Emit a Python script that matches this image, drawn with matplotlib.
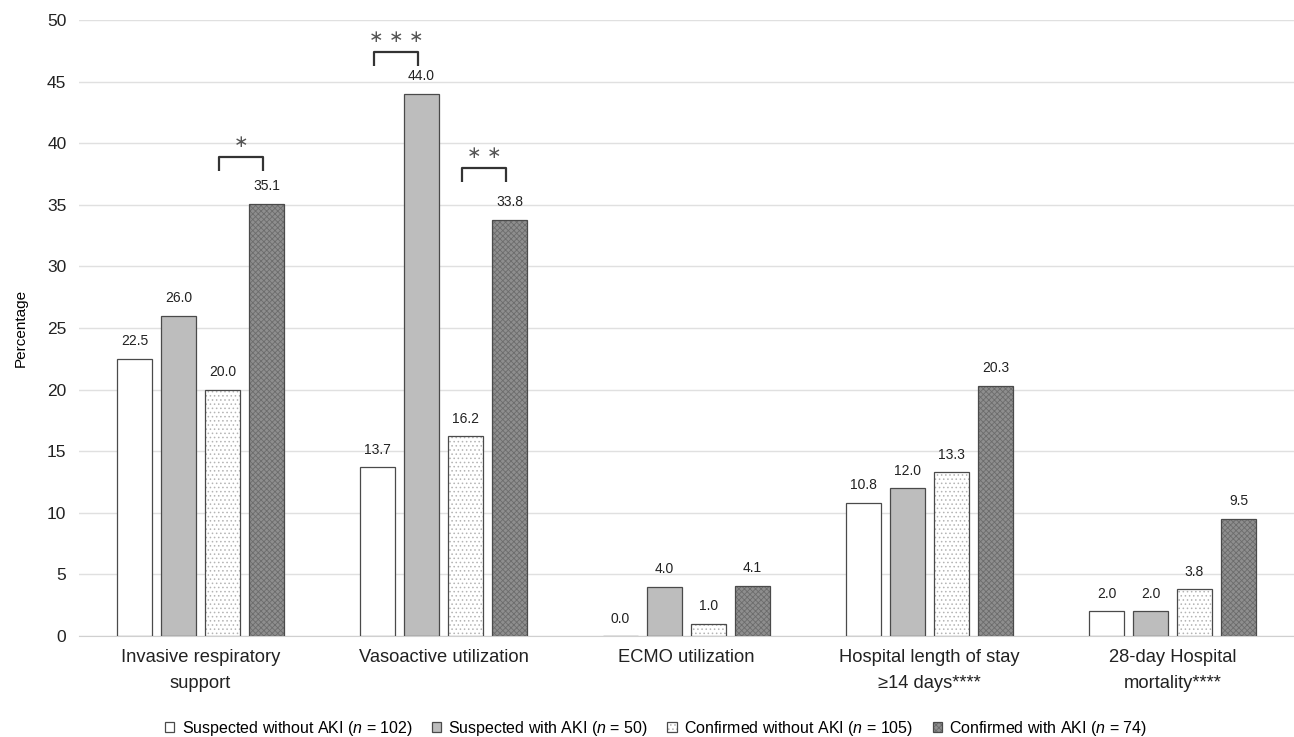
import matplotlib
matplotlib.use('Agg')
import matplotlib.pyplot as plt
import numpy as np

plt.rcParams['font.family'] = ['Liberation Sans', 'DejaVu Sans']
plt.rcParams['mathtext.fontset'] = 'custom'
plt.rcParams['mathtext.rm'] = 'Liberation Sans'
plt.rcParams['mathtext.it'] = 'Liberation Sans:italic'
plt.rcParams['hatch.linewidth'] = 0.6

# data
categories = ['Invasive respiratory\nsupport', 'Vasoactive utilization', 'ECMO utilization',
              'Hospital length of stay\n≥14 days****', '28-day Hospital\nmortality****']
series_names = ['Suspected without AKI ($n$ = 102)', 'Suspected with AKI ($n$ = 50)',
                'Confirmed without AKI ($n$ = 105)', 'Confirmed with AKI ($n$ = 74)']
susp_no_aki = [22.5, 13.7, 0.0, 10.8, 2.0]
susp_aki = [26.0, 44.0, 4.0, 12.0, 2.0]
conf_no_aki = [20.0, 16.2, 1.0, 13.3, 3.8]
conf_aki = [35.1, 33.8, 4.1, 20.3, 9.5]
values = [susp_no_aki, susp_aki, conf_no_aki, conf_aki]

# significance brackets: (category index, series a, series b, label)
sig_marks = [(0, 2, 3, '∗'), (1, 0, 1, '∗ ∗ ∗'), (1, 2, 3, '∗ ∗')]
sig_levels = [38.9, 47.4, 38.0]

styles = [
    dict(facecolor='white', hatch=None),
    dict(facecolor='#bdbdbd', hatch=None),
    dict(facecolor='white', hatch='....'),
    dict(facecolor='#8e8e8e', hatch='xxxxxx'),
]
hatch_colors = [None, None, '#b4b4b4', '#6c6c6c']

fig = plt.figure(figsize=(12.94, 7.37), dpi=100)
ax = fig.add_axes([0.061, 0.137, 0.939, 0.836])

x = np.arange(len(categories))
step = 0.181
width = 0.144
offsets = (np.arange(4) - 1.5) * step

for i, vals in enumerate(values):
    st = styles[i]
    bars = ax.bar(x + offsets[i], vals, width, color=st['facecolor'], edgecolor='#4a4a4a',
                  linewidth=0.9, hatch=st['hatch'], label=series_names[i], zorder=3)
    if hatch_colors[i]:
        for b in bars:
            b._hatch_color = matplotlib.colors.to_rgba(hatch_colors[i])
    for b, v in zip(bars, vals):
        ax.text(b.get_x() + b.get_width() / 2, v + 0.85, f'{v:.1f}', ha='center', va='bottom',
                fontsize=10, color='#222222')

for (ci, a, b, lab), top in zip(sig_marks, sig_levels):
    xa = x[ci] + offsets[a] - 0.015
    xb = x[ci] + offsets[b] - 0.015
    ax.plot([xa, xa, xb, xb], [top - 1.15, top, top, top - 1.15], color='#333333', lw=1.6,
            solid_capstyle='butt', solid_joinstyle='round', zorder=4)
    ax.text((xa + xb) / 2, top + 0.5, lab, ha='center', va='bottom', fontsize=12.5,
            color='#555555', family='DejaVu Sans')

ax.set_xlim(-0.5, len(categories) - 0.5)
ax.set_ylim(0, 50)
ax.set_yticks(np.arange(0, 51, 5))
ax.set_xticks(x)
ax.set_xticklabels(categories, fontsize=13.2, linespacing=1.75)
ax.tick_params(axis='both', length=0, labelsize=12.5, colors='#222222')
ax.tick_params(axis='x', labelsize=13.2, pad=9)
ax.tick_params(axis='y', pad=9)
ax.grid(axis='y', color='#e0e0e0', linewidth=1, zorder=0)
for s in ['top', 'right', 'left']:
    ax.spines[s].set_visible(False)
ax.spines['bottom'].set_color('#d0d0d0')
ax.set_ylabel('Percentage', fontsize=11, labelpad=14)

fig.legend(*ax.get_legend_handles_labels(), loc='center', bbox_to_anchor=(0.507, 0.012), ncol=4,
           frameon=False, fontsize=11.5, handlelength=0.6, handleheight=0.6, handletextpad=0.45,
           columnspacing=1.2, borderaxespad=0, borderpad=0)

fig.savefig('out.png', dpi=100)
